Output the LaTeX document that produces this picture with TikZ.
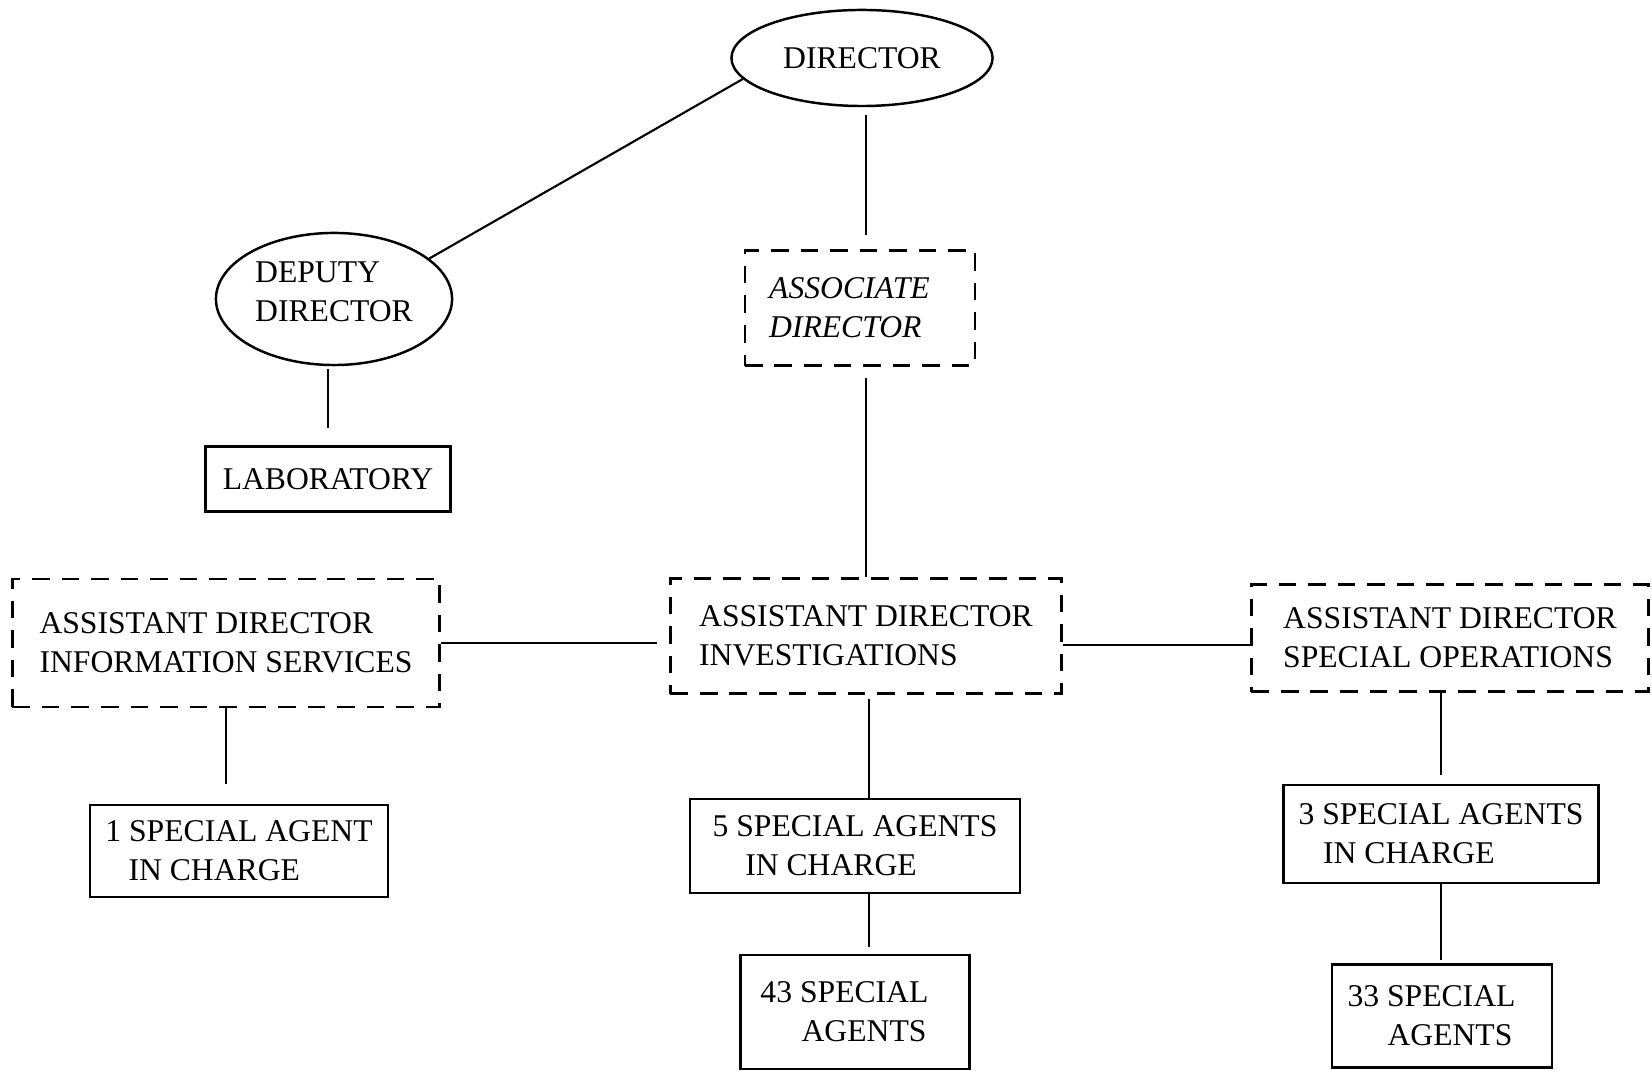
\documentclass[tikz,border=0pt]{standalone}
\usepackage{fontspec}
\setmainfont{Liberation Serif}
\usetikzlibrary{shapes.geometric}

\begin{document}
\begin{tikzpicture}[x=0.01cm, y=-0.01cm,
    line width=0.7pt,
    font=\fontsize{9}{11.1}\selectfont,
    post/.style={draw, rectangle, inner sep=0pt, align=left},
    acting/.style={post, dash pattern=on 5pt off 3.4pt},
    head/.style={draw, ellipse, inner sep=0pt, align=left},
    link/.style={line width=0.6pt}]

% ---- Frame ----
\useasboundingbox (0,0) rectangle (1652,1071);

% ---- Spines ----
\coordinate (mid) at (866,0);    % middle column
\coordinate (low) at (869,0);    % under investigations

% ---- Top ----
\node[head, minimum width=2.61cm, minimum height=0.96cm] (director) at (862,58) {DIRECTOR};
\node[head, minimum width=2.36cm, minimum height=1.32cm] (deputy) at (334,299) {};
\node[align=left, inner sep=0pt] (deputylabel) at (334,292) {DEPUTY\\DIRECTOR};
\node[acting, minimum width=2.30cm, minimum height=1.15cm, font=\fontsize{9}{11.1}\selectfont\itshape] (associate) at (860,308) {ASSOCIATE\rule{6pt}{0pt}\\DIRECTOR};
\node[post, minimum width=2.45cm, minimum height=0.65cm] (lab) at (328,479) {LABORATORY};

% ---- Assistant directors ----
\node[acting, minimum width=4.27cm, minimum height=1.28cm] (info) at (226,643) {ASSISTANT DIRECTOR\\INFORMATION SERVICES};
\node[acting, minimum width=3.91cm, minimum height=1.15cm] (inv) at (866,636) {ASSISTANT DIRECTOR\\INVESTIGATIONS};
\node[acting, minimum width=3.97cm, minimum height=1.07cm] (specops) at (1450,638) {ASSISTANT DIRECTOR\\SPECIAL OPERATIONS};

% ---- Agents ----
\node[post, minimum width=2.98cm, minimum height=0.92cm] (agent1) at (239,851) {1 SPECIAL AGENT\\\hspace{6.6pt}IN CHARGE};
\node[post, minimum width=3.30cm, minimum height=0.94cm] (agents5) at (855,846) {5 SPECIAL AGENTS\\\hspace{9.3pt}IN CHARGE};
\node[post, minimum width=2.29cm, minimum height=1.14cm] (agents43) at (855,1012) {43 SPECIAL\rule{6pt}{0pt}\\\hspace{11.7pt}AGENTS};
\node[post, minimum width=3.15cm, minimum height=0.98cm] (agents3) at (1441,834) {3 SPECIAL AGENTS\\\hspace{7pt}IN CHARGE};
\node[post, minimum width=2.20cm, minimum height=1.03cm] (agents33) at (1442,1016) {33 SPECIAL\rule{6pt}{0pt}\\\hspace{11.4pt}AGENTS};

% ---- Lines ----
\draw[link] (director.190) -- (deputy.23);
\draw[link, shorten <=0.08cm, shorten >=0.14cm] (mid |- director.south) -- (mid |- associate.north);
\draw[link, shorten <=0.11cm] (mid |- associate.south) -- (mid |- inv.north);
\draw[link, shorten <=0.03cm, shorten >=0.17cm] (lab.north |- deputy.south) -- (lab.north);

\draw[link, shorten >=0.12cm] (info.east) -- (info.east -| inv.west);
\draw[link] ([yshift=-0.09cm]inv.east) -- ([yshift=-0.09cm]inv.east -| specops.west);

\draw[link, shorten >=0.2cm] (info.south) -- (info.south |- agent1.north);
\draw[link, shorten <=0.04cm] (low |- inv.south) -- (low |- agents5.north);
\draw[link, shorten >=0.07cm] (low |- agents5.south) -- (low |- agents43.north);
\draw[link, shorten >=0.09cm] (agents3.north |- specops.south) -- (agents3.north);
\draw[link, shorten >=0.03cm] (agents3.south) -- (agents3.south |- agents33.north);

\end{tikzpicture}
\end{document}
